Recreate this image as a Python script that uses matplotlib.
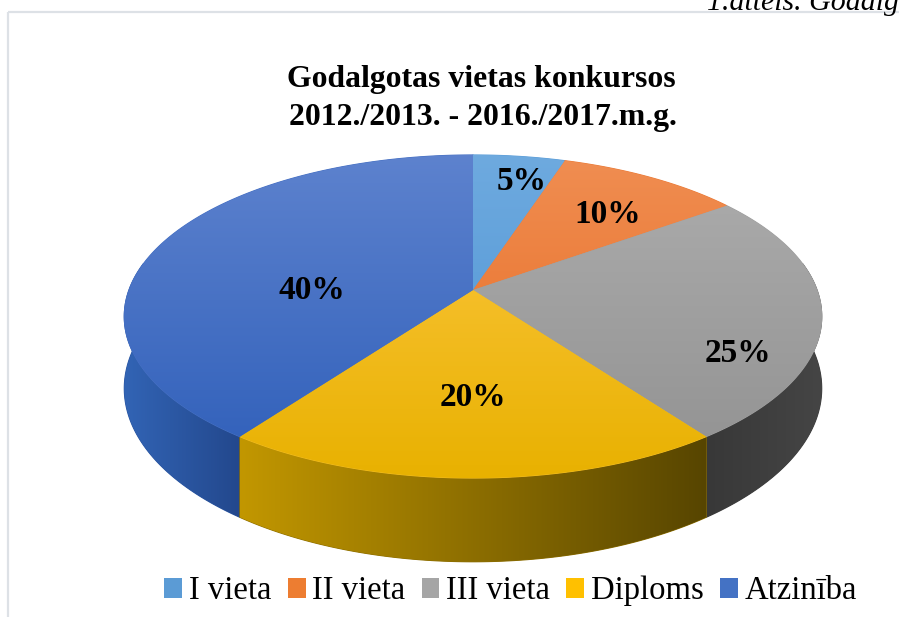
import numpy as np
import matplotlib
matplotlib.use('Agg')
import matplotlib.pyplot as plt
from matplotlib.patches import Polygon, Patch
from matplotlib.colors import to_rgb

# ---------------- data ----------------
categories = ['I vieta', 'II vieta', 'III vieta', 'Diploms', 'Atzinība']
values = [5, 10, 25, 20, 40]
value_labels = ['5%', '10%', '25%', '20%', '40%']
title_lines = ['Godalgotas vietas konkursos', '2012./2013. - 2016./2017.m.g.']
caption = '1.attēls. Godalgotas vietas konkursos'

# ---------------- style ----------------
legend_colors = ['#5b9bd5', '#ed7d31', '#a5a5a5', '#ffc000', '#4472c4']
top_hi = ['#6eaadf', '#f08e52', '#adadad', '#fec845', '#5d82ce']
top_lo = ['#4a91d3', '#e6671d', '#919191', '#e8b100', '#2e5eb9']
side_l = ['#3a78b8', '#b85a1e', '#383838', '#c29700', '#3264b5']
side_r = ['#2d5f93', '#8f4516', '#454545', '#574500', '#23488d']
# label placement: (radial fraction, angular nudge in degrees)
label_place = [(0.82, -2.3), (0.69, -2.3), (0.81, -17.5), (0.60, 0.0), (0.47, 15.7)]

W, H = 899, 617
fig = plt.figure(figsize=(W / 100, H / 100), dpi=100)
ax = fig.add_axes([0, 0, 1, 1])
ax.axis('off')

CX, CY, A, B, K, D = 473, 290, 344, 157.2, 0.164, 70
Y_TOP, Y_BOT = 155, 480


def proj(u, v):
    den = 1 + K * v
    return CX + A * u / den, CY - B * v / den


def lerp_color(c0, c1, f):
    c0 = np.array(to_rgb(c0)); c1 = np.array(to_rgb(c1))
    f = np.clip(f, 0, 1)[..., None]
    return c0 * (1 - f) + c1 * f


def grad_fill(verts, c0, c1, direction, zorder):
    mid = lerp_color(c0, c1, np.array(0.5))
    base = Polygon(verts, closed=True, facecolor=mid, edgecolor=mid, lw=0.8, zorder=zorder)
    ax.add_patch(base)
    clip = Polygon(verts, closed=True, facecolor='none', edgecolor='none', zorder=zorder)
    ax.add_patch(clip)
    x0, y0 = verts.min(0); x1, y1 = verts.max(0)
    nx = max(int(x1 - x0) + 2, 2); ny = max(int(y1 - y0) + 2, 2)
    X, Y = np.meshgrid(np.linspace(x0, x1, nx), np.linspace(y0, y1, ny))
    if direction == 'v':
        f = (Y - Y_TOP) / (Y_BOT - Y_TOP)
    else:
        f = (X - x0) / max(x1 - x0, 1)
    img = lerp_color(c0, c1, f)
    im = ax.imshow(img, extent=(x0, x1, y1, y0), origin='upper',
                   interpolation='bilinear', zorder=zorder + 0.1, aspect='auto')
    im.set_clip_path(clip)


total = sum(values)
starts, ends = [], []
t = 90.0
for v in values:
    starts.append(t)
    t -= 360.0 * v / total
    ends.append(t)

# side walls (front part only)
FRONT_HI, FRONT_LO = 10.0, -190.0
for i in range(len(values)):
    hi = min(starts[i], FRONT_HI)
    lo = max(ends[i], FRONT_LO)
    if hi <= lo:
        continue
    ts = np.radians(np.linspace(hi, lo, 120))
    u, v = np.cos(ts), np.sin(ts)
    xt, yt = proj(u, v)
    yb = yt + D / (1 + K * v)
    verts = np.column_stack([np.r_[xt, xt[::-1]], np.r_[yt, yb[::-1]]])
    z = 3 if i == 3 else 2
    grad_fill(verts, side_l[i], side_r[i], 'h', z)

# top faces
for i in range(len(values)):
    ts = np.radians(np.linspace(starts[i], ends[i], 200))
    xt, yt = proj(np.cos(ts), np.sin(ts))
    verts = np.column_stack([np.r_[CX, xt], np.r_[CY, yt]])
    grad_fill(verts, top_hi[i], top_lo[i], 'v', 5)

# value labels
for i, lab in enumerate(value_labels):
    r, dt = label_place[i]
    mid = np.radians((starts[i] + ends[i]) / 2 + dt)
    lx, ly = proj(r * np.cos(mid), r * np.sin(mid))
    ax.text(lx, ly + 11.5, lab, ha='center', va='baseline', fontsize=24,
            fontweight='bold', family='Liberation Serif', color='black', zorder=10)

# title
ax.text(481.5, 87, title_lines[0], ha='center', va='baseline', fontsize=22.9,
        fontweight='bold', family='Liberation Serif', zorder=10)
ax.text(483, 125, title_lines[1], ha='center', va='baseline', fontsize=22.9,
        fontweight='bold', family='Liberation Serif', zorder=10)

# frame & caption
ax.plot([8, 8], [12, H], color='#dde1e6', lw=1.6, zorder=1, solid_capstyle='butt')
ax.plot([8, W], [12, 12], color='#dde1e6', lw=1.6, zorder=1, solid_capstyle='butt')
ax.text(707, 10, caption, ha='left', va='baseline', fontsize=21.5, style='italic',
        family='Liberation Serif', zorder=10, clip_on=False)

# legend
handles = [Patch(facecolor=c, edgecolor='none', label=n) for c, n in zip(legend_colors, categories)]
leg = fig.legend(handles=handles, loc='center', bbox_to_anchor=(510.5 / W, 1 - 591 / H),
                 ncol=5, frameon=False, prop={'family': 'Liberation Serif', 'size': 23.5},
                 handlelength=0.55, handleheight=0.55, handletextpad=0.2,
                 columnspacing=0.5, borderaxespad=0, borderpad=0)

ax.set_xlim(0, W)
ax.set_ylim(H, 0)
fig.savefig('out.png', dpi=100, facecolor='white')
